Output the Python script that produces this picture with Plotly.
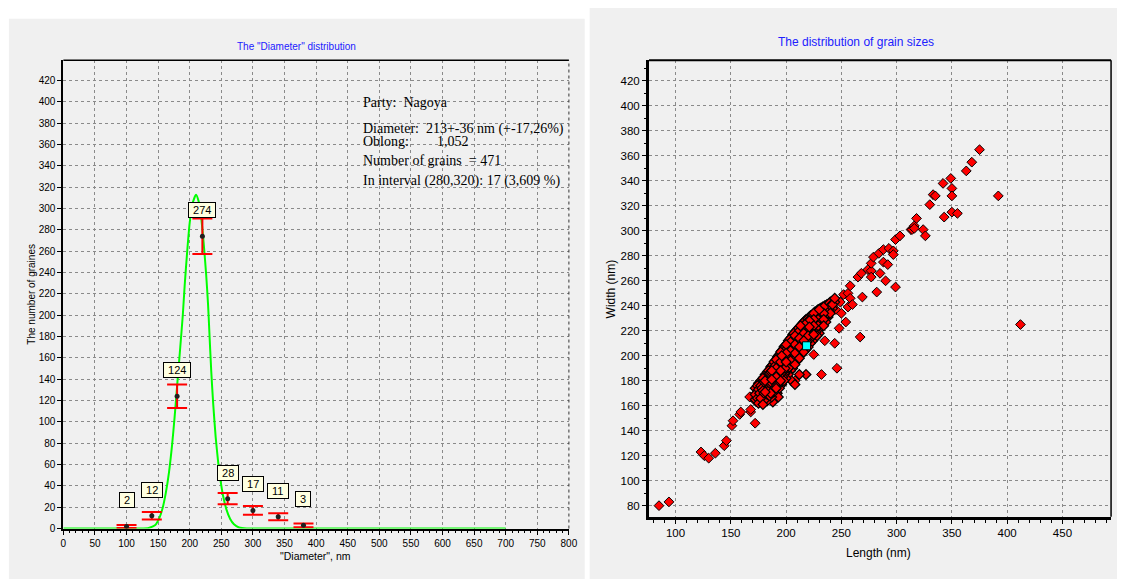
import plotly.graph_objects as go

W, H = 1126, 585

# ---------------- Left chart data: "Diameter" distribution ----------------
bin_centers = [100, 140, 180, 220, 260, 300, 340, 380]
grain_counts = [2, 12, 124, 274, 28, 17, 11, 3]
count_errors = [1.4, 3.5, 11.1, 16.6, 5.3, 4.1, 3.3, 1.7]

fit_x = [0, 60, 120, 135, 145, 152, 157, 162, 167, 172, 176, 181, 185, 189, 192, 196,
         200, 205, 210, 214, 218, 222, 226, 229, 231, 234, 237, 241, 245, 248, 253,
         258, 264, 270, 278, 290, 320, 700]
fit_y = [0, 0, 0, 0.5, 3, 10, 19, 33, 52, 78, 104, 141, 170, 200, 228, 260,
         287, 306, 313, 307, 292, 268, 238, 210, 185, 148, 118, 86, 62, 48, 30,
         18, 9, 4, 1, 0, 0, 0]

stats_lines = [
    "Party:  Nagoya",
    "Diameter:  213+-36 nm (+-17,26%)",
    "Oblong:        1,052",
    "Number of grains  = 471",
    "In interval (280,320): 17 (3,609 %)",
]

# ---------------- Right chart data: grain sizes (length, width) ----------------
low_tail = [(85, 80), (94, 83), (123, 123), (126, 120), (130, 118), (136, 122),
            (144, 128), (146, 132), (151, 144), (152, 148), (158, 153), (159, 155),
            (168, 155), (168, 157), (168, 167), (172, 146), (173, 163), (167, 167)]

core_170s = [(172, 174), (172, 169), (172, 165), (174, 176), (174, 171), (174, 166),
             (175, 178), (175, 173), (175, 168), (175, 162), (176, 175), (176, 170),
             (177, 180), (177, 176), (177, 172), (177, 166), (178, 179), (178, 174),
             (178, 169), (179, 182), (179, 177), (179, 172), (179, 167), (179, 161)]
core_180s = [(180, 183), (180, 179), (180, 175), (180, 170), (181, 185), (181, 180),
             (181, 176), (181, 171), (181, 165), (182, 184), (182, 181), (182, 177),
             (182, 173), (182, 168), (183, 187), (183, 182), (183, 178), (183, 174),
             (183, 169), (183, 164), (184, 188), (184, 184), (184, 180), (184, 176),
             (184, 172), (185, 189), (185, 186), (185, 182), (185, 178), (185, 173),
             (185, 168), (186, 191), (186, 187), (186, 183), (186, 179), (186, 175),
             (186, 170), (187, 192), (187, 188), (187, 185), (187, 181), (187, 177),
             (187, 172), (187, 167), (188, 193), (188, 190), (188, 186), (188, 182),
             (188, 178), (188, 174), (188, 163), (189, 195), (189, 191), (189, 187),
             (189, 184), (189, 180), (189, 176), (189, 171)]
core_190s = [(190, 196), (190, 192), (190, 189), (190, 185), (190, 181), (190, 177),
             (190, 173), (191, 197), (191, 194), (191, 190), (191, 186), (191, 183),
             (191, 179), (191, 174), (192, 199), (192, 195), (192, 191), (192, 188),
             (192, 184), (192, 180), (192, 176), (192, 170), (193, 200), (193, 196),
             (193, 193), (193, 189), (193, 185), (193, 182), (193, 177), (193, 167),
             (194, 201), (194, 198), (194, 194), (194, 190), (194, 187), (194, 183),
             (194, 179), (194, 174), (195, 203), (195, 199), (195, 195), (195, 192),
             (195, 188), (195, 184), (195, 180), (196, 204), (196, 200), (196, 197),
             (196, 193), (196, 189), (196, 186), (196, 182), (196, 177), (197, 205),
             (197, 202), (197, 198), (197, 194), (197, 191), (197, 187), (197, 183),
             (198, 207), (198, 203), (198, 199), (198, 196), (198, 192), (198, 188),
             (198, 185), (198, 180), (199, 208), (199, 204), (199, 201), (199, 197),
             (199, 193), (199, 190), (199, 186)]
core_200s = [(200, 209), (200, 206), (200, 202), (200, 198), (200, 195), (200, 191),
             (200, 187), (200, 182), (201, 210), (201, 207), (201, 203), (201, 200),
             (201, 196), (201, 192), (201, 189), (202, 212), (202, 208), (202, 205),
             (202, 201), (202, 197), (202, 194), (202, 190), (202, 185), (203, 213),
             (203, 209), (203, 206), (203, 202), (203, 199), (203, 195), (203, 191),
             (204, 214), (204, 211), (204, 207), (204, 204), (204, 200), (204, 196),
             (204, 193), (204, 188), (205, 215), (205, 212), (205, 208), (205, 205),
             (205, 201), (205, 198), (205, 194), (205, 180), (206, 217), (206, 213),
             (206, 210), (206, 206), (206, 203), (206, 199), (206, 195), (206, 190),
             (207, 218), (207, 214), (207, 211), (207, 207), (207, 204), (207, 200),
             (207, 197), (208, 219), (208, 216), (208, 212), (208, 209), (208, 205),
             (208, 202), (208, 198), (208, 193), (208, 177), (209, 220), (209, 217),
             (209, 213), (209, 210), (209, 206), (209, 203), (209, 199)]
core_210s = [(210, 221), (210, 218), (210, 215), (210, 211), (210, 208), (210, 204),
             (210, 201), (210, 196), (211, 222), (211, 219), (211, 216), (211, 212),
             (211, 209), (211, 205), (211, 202), (212, 223), (212, 220), (212, 217),
             (212, 214), (212, 210), (212, 207), (212, 203), (212, 198), (212, 185),
             (213, 224), (213, 221), (213, 218), (213, 215), (213, 211), (213, 208),
             (213, 205), (214, 225), (214, 222), (214, 219), (214, 216), (214, 213),
             (214, 209), (214, 206), (214, 201), (215, 226), (215, 223), (215, 220),
             (215, 217), (215, 214), (215, 210), (215, 207), (216, 227), (216, 224),
             (216, 221), (216, 218), (216, 215), (216, 212), (216, 208), (216, 203),
             (217, 228), (217, 225), (217, 222), (217, 219), (217, 216), (217, 213),
             (217, 209), (218, 229), (218, 226), (218, 223), (218, 220), (218, 217),
             (218, 214), (218, 210), (218, 205), (218, 185), (219, 229), (219, 227),
             (219, 224), (219, 221), (219, 218), (219, 215), (219, 211)]
core_220s = [(220, 230), (220, 228), (220, 225), (220, 222), (220, 219), (220, 216),
             (220, 212), (220, 207), (221, 231), (221, 228), (221, 226), (221, 223),
             (221, 220), (221, 217), (221, 213), (222, 232), (222, 229), (222, 226),
             (222, 224), (222, 221), (222, 218), (222, 214), (222, 210), (223, 232),
             (223, 230), (223, 227), (223, 225), (223, 222), (223, 219), (223, 215),
             (224, 233), (224, 231), (224, 228), (224, 225), (224, 223), (224, 220),
             (224, 216), (224, 212), (225, 234), (225, 231), (225, 229), (225, 226),
             (225, 224), (225, 221), (225, 217), (226, 235), (226, 232), (226, 230),
             (226, 227), (226, 224), (226, 222), (226, 218), (226, 214), (227, 235),
             (227, 233), (227, 230), (227, 228), (227, 225), (227, 222), (227, 219),
             (228, 236), (228, 233), (228, 231), (228, 228), (228, 226), (228, 223),
             (228, 220), (228, 216), (229, 237), (229, 234), (229, 232), (229, 229),
             (229, 226), (229, 224), (229, 221)]
core_230s = [(230, 237), (230, 235), (230, 232), (230, 230), (230, 227), (230, 225),
             (230, 222), (230, 218), (231, 238), (231, 235), (231, 233), (231, 230),
             (231, 228), (231, 225), (232, 238), (232, 236), (232, 233), (232, 231),
             (232, 228), (232, 226), (232, 223), (233, 239), (233, 236), (233, 234),
             (233, 231), (233, 229), (233, 226), (234, 239), (234, 237), (234, 234),
             (234, 232), (234, 229), (234, 227), (234, 224), (235, 240), (235, 237),
             (235, 235), (235, 232), (235, 230), (236, 240), (236, 238), (236, 235),
             (236, 233), (236, 230), (236, 227), (237, 241), (237, 238), (237, 236),
             (237, 233), (238, 241), (238, 239), (238, 236), (238, 234), (238, 231),
             (239, 242), (239, 239), (239, 237), (240, 243), (240, 240), (240, 237),
             (240, 234), (242, 244), (242, 241), (242, 238), (244, 246), (244, 243)]

upper_band = [(208, 180), (225, 201), (232, 185), (235, 212), (235, 232), (238, 233),
              (242, 236), (244, 210), (245, 237), (246, 190), (248, 222), (249, 243),
              (250, 234), (252, 249), (254, 227), (256, 250), (256, 239), (258, 256),
              (258, 246), (260, 241), (265, 263), (267, 215), (268, 266), (269, 247),
              (274, 269), (277, 268), (277, 263), (277, 274), (279, 279), (282, 251),
              (284, 282), (285, 266), (288, 285), (288, 275), (290, 260), (292, 273),
              (293, 286), (297, 284), (297, 281), (299, 293), (299, 255), (303, 296),
              (313, 301), (314, 301), (316, 304), (316, 302), (318, 310), (324, 301),
              (326, 296), (330, 321), (333, 329), (335, 328), (342, 338), (343, 311),
              (349, 342), (350, 334), (350, 328), (350, 315), (355, 314), (363, 348),
              (368, 355), (375, 365)]
outliers = [(392, 328), (412, 225)]

mean_point_length = [218.5]
mean_point_width = [208]

core_groups = [core_170s, core_180s, core_190s, core_200s, core_210s, core_220s, core_230s]
core_all = [p for g in core_groups for p in g]
# draw the dense core in an interleaved order (values unchanged, only drawing order)
n_core = len(core_all)
step = 97
while n_core % step == 0:
    step += 2
core_drawn = [core_all[(i * step) % n_core] for i in range(n_core)]

sparse_all = low_tail + upper_band + outliers

# ---------------- Figure ----------------
def px_x(px):
    return px / W

def px_y(py):
    return 1 - py / H

BLACK = "#000000"
GRID = "#8a8a8a"
PANEL = "#f0f0f0"
FONT = "Liberation Sans"
NBSP = "\u00a0"

fig = go.Figure()

# green fitted curve
fig.add_trace(go.Scatter(
    x=fit_x, y=fit_y, mode="lines", line=dict(color="#00ff00", width=2, shape="spline", smoothing=0.6),
    xaxis="x", yaxis="y", hoverinfo="skip", showlegend=False))

# counts with error bars
fig.add_trace(go.Scatter(
    x=bin_centers, y=grain_counts, mode="markers",
    marker=dict(color="#202020", size=5),
    error_y=dict(type="data", array=count_errors, visible=True, color="#ff0000",
                 thickness=2, width=10),
    xaxis="x", yaxis="y", showlegend=False))

# scatter grains
fig.add_trace(go.Scatter(
    x=[p[0] for p in sparse_all], y=[p[1] for p in sparse_all], mode="markers",
    marker=dict(symbol="diamond", color="#ff0000", size=7.5, line=dict(color="#000000", width=1)),
    xaxis="x2", yaxis="y2", showlegend=False))
fig.add_trace(go.Scatter(
    x=[p[0] for p in core_drawn], y=[p[1] for p in core_drawn], mode="markers",
    marker=dict(symbol="diamond", color="#ff0000", size=7.5, line=dict(color="#000000", width=1.2)),
    xaxis="x2", yaxis="y2", showlegend=False))

fig.add_trace(go.Scatter(
    x=mean_point_length, y=mean_point_width, mode="markers",
    marker=dict(symbol="square", color="#00ffff", size=8, line=dict(color="#000000", width=1)),
    xaxis="x2", yaxis="y2", showlegend=False))

common_axis = dict(
    showgrid=True, gridcolor=GRID, griddash="3px,3px", gridwidth=1,
    showline=True, linecolor=BLACK, zeroline=False,
    ticks="outside", ticklen=4, tickcolor=BLACK, tickwidth=1,
    tickfont=dict(family=FONT, size=10, color=BLACK), layer="below traces",
)

fig.update_layout(
    width=W, height=H, margin=dict(l=0, r=0, t=0, b=0),
    paper_bgcolor="#ffffff", plot_bgcolor=PANEL, showlegend=False,
    xaxis=dict(common_axis, domain=[px_x(61), px_x(572)], range=[0, 800], tick0=0, dtick=50,
               linewidth=2, anchor="y",
               minor=dict(dtick=10, ticks="outside", ticklen=2, tickcolor=BLACK, showgrid=False)),
    yaxis=dict(common_axis, domain=[px_y(534), px_y(61)], range=[0, 439], tick0=0, dtick=20,
               linewidth=2, anchor="x"),
    xaxis2=dict(common_axis, domain=[px_x(653), px_x(1120)], range=[76, 494], tick0=0, dtick=50,
                linewidth=3, anchor="y2",
                tickfont=dict(family=FONT, size=11.5, color=BLACK),
                minor=dict(dtick=10, ticks="outside", ticklen=3, tickcolor=BLACK, showgrid=False)),
    yaxis2=dict(common_axis, domain=[px_y(522), px_y(61)], range=[71.2, 436.5], tick0=0, dtick=20,
                linewidth=3, anchor="x2",
                tickfont=dict(family=FONT, size=11.5, color=BLACK),
                minor=dict(dtick=10, ticks="outside", ticklen=2, tickcolor=BLACK, showgrid=False)),
)

shapes = [
    # panels
    dict(type="rect", xref="paper", yref="paper", x0=px_x(6), x1=px_x(588), y0=0, y1=px_y(19),
         fillcolor=PANEL, line=dict(width=0), layer="below"),
    dict(type="rect", xref="paper", yref="paper", x0=px_x(593), x1=1, y0=0, y1=px_y(8),
         fillcolor=PANEL, line=dict(width=0), layer="below"),
    # left frame top & right
    dict(type="line", xref="x domain", yref="y domain", x0=0, x1=1, y0=1, y1=1,
         line=dict(color=BLACK, width=1.5)),
    dict(type="line", xref="x domain", yref="y domain", x0=1, x1=1, y0=0, y1=1,
         line=dict(color="#333333", width=1, dash="3px,3px")),
    # right frame top & right
    dict(type="line", xref="x2 domain", yref="y2 domain", x0=0, x1=1, y0=1, y1=1,
         line=dict(color=BLACK, width=2)),
    dict(type="line", xref="x2 domain", yref="y2 domain", x0=1, x1=1, y0=0, y1=1,
         line=dict(color=BLACK, width=1.5)),
]
fig.update_layout(shapes=shapes)

ann = []
# titles
ann.append(dict(text='The "Diameter" distribution', xref="paper", yref="paper",
                x=px_x(297), y=px_y(47), showarrow=False, xanchor="center", yanchor="middle",
                font=dict(family=FONT, size=10, color="#2020ff")))
ann.append(dict(text="The distribution of grain sizes", xref="paper", yref="paper",
                x=px_x(862), y=px_y(42), showarrow=False, xanchor="center", yanchor="middle",
                font=dict(family=FONT, size=12, color="#2020ff")))
# axis titles
ann.append(dict(text="The number of graines", xref="paper", yref="paper",
                x=px_x(29), y=px_y(297), showarrow=False, textangle=-90,
                xanchor="center", yanchor="middle", font=dict(family=FONT, size=10, color=BLACK)))
ann.append(dict(text='"Diameter", nm', xref="paper", yref="paper",
                x=px_x(316), y=px_y(562), showarrow=False,
                xanchor="center", yanchor="middle", font=dict(family=FONT, size=10.5, color=BLACK)))
ann.append(dict(text="Length (nm)", xref="paper", yref="paper",
                x=px_x(885), y=px_y(559), showarrow=False,
                xanchor="center", yanchor="middle", font=dict(family=FONT, size=12, color=BLACK)))
ann.append(dict(text="Width (nm)", xref="paper", yref="paper",
                x=px_x(615), y=px_y(292), showarrow=False, textangle=-90,
                xanchor="center", yanchor="middle", font=dict(family=FONT, size=12, color=BLACK)))
# stats text
stat_y_px = [104, 130, 143, 162, 183]
for line, ypx in zip(stats_lines, stat_y_px):
    ann.append(dict(text=line, xref="paper", yref="paper", x=px_x(362), y=px_y(ypx),
                    showarrow=False, xanchor="left", yanchor="middle",
                    font=dict(family="Liberation Serif", size=14, color=BLACK)))
# count labels
for xc, c in zip(bin_centers, grain_counts):
    ann.append(dict(text=NBSP + str(c) + NBSP, x=xc, y=c, xref="x", yref="y", showarrow=False,
                    yshift=26, bgcolor="#ffffe1", bordercolor=BLACK, borderwidth=1, borderpad=1,
                    font=dict(family=FONT, size=11, color=BLACK)))
fig.update_layout(annotations=ann)

fig.write_html("out.html")
